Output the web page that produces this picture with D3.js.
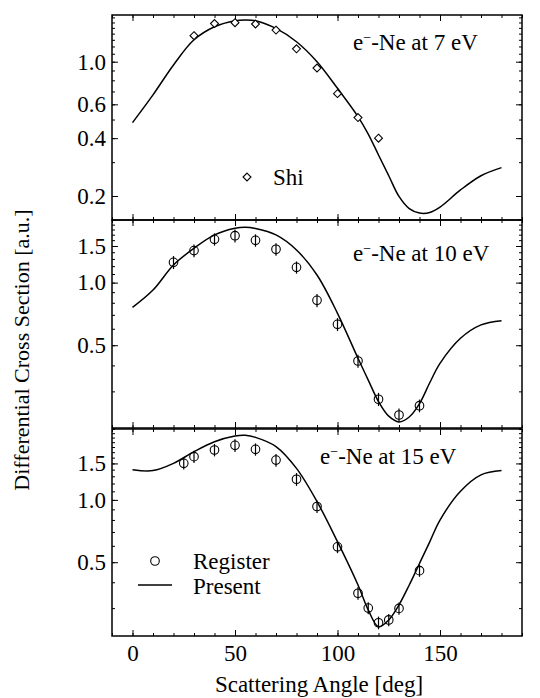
<!DOCTYPE html>
<html>
<head>
<meta charset="utf-8">
<script src="https://cdn.jsdelivr.net/npm/d3@7"></script>
<style>
  body { margin: 0; background: #fff; }
  svg { display: block; }
  text { font-family: "Liberation Serif", "DejaVu Serif", serif; fill: #000; }
</style>
</head>
<body>
<svg id="chart" width="540" height="698"></svg>
<script>
// angles for the theory curves (deg)
const curveAngles = [0, 10, 20, 30, 40, 50, 55, 60, 70, 80, 90, 100, 110, 115, 120, 125, 130, 135, 140, 145, 150, 160, 170, 180];

// "Present" curves
const present7 = [0.482, 0.672, 0.962, 1.30, 1.52, 1.635, 1.65, 1.635, 1.49, 1.27, 1.00, 0.727, 0.518, 0.42, 0.327, 0.255, 0.199, 0.172, 0.163, 0.164, 0.175, 0.215, 0.255, 0.281];
const present10 = [0.76, 0.921, 1.216, 1.462, 1.695, 1.824, 1.846, 1.82, 1.695, 1.435, 1.088, 0.712, 0.433, 0.34, 0.268, 0.228, 0.214, 0.226, 0.262, 0.33, 0.409, 0.54, 0.626, 0.656];
const present15 = [1.40, 1.385, 1.501, 1.71, 1.91, 2.035, 2.05, 2.005, 1.81, 1.42, 0.982, 0.628, 0.388, 0.294, 0.244, 0.263, 0.311, 0.388, 0.493, 0.627, 0.799, 1.10, 1.32, 1.385];

// Shi data, 7 eV
const shiAngles = [30, 40, 50, 60, 70, 80, 90, 100, 110, 120];
const shiValues = [1.366, 1.58, 1.596, 1.571, 1.46, 1.167, 0.927, 0.682, 0.512, 0.400];
const shiErrors = [0.05, 0.06, 0.06, 0.06, 0.05, 0.04, 0.035, 0.025, 0.02, 0.015];

// Register data, 10 eV
const reg10Angles = [20, 30, 40, 50, 60, 70, 80, 90, 100, 110, 120, 130, 140];
const reg10Values = [1.252, 1.425, 1.615, 1.681, 1.597, 1.446, 1.184, 0.822, 0.630, 0.420, 0.275, 0.231, 0.256];
const reg10Errors = [0.09, 0.10, 0.11, 0.12, 0.11, 0.10, 0.08, 0.06, 0.045, 0.03, 0.02, 0.017, 0.018];

// Register data, 15 eV
const reg15Angles = [25, 30, 40, 50, 60, 70, 80, 90, 100, 110, 115, 120, 125, 130, 140];
const reg15Values = [1.501, 1.617, 1.742, 1.834, 1.755, 1.557, 1.258, 0.929, 0.593, 0.354, 0.300, 0.255, 0.263, 0.299, 0.455];
const reg15Errors = [0.10, 0.11, 0.12, 0.13, 0.12, 0.11, 0.09, 0.065, 0.04, 0.025, 0.02, 0.018, 0.018, 0.02, 0.03];

// tick labels
const xTicks = [0, 50, 100, 150];
const yTicks7 = [0.2, 0.4, 0.6, 1.0];
const yTicks10 = [0.5, 1.0, 1.5];
const yTicks15 = [0.5, 1.0, 1.5];

const svg = d3.select("#chart");
const left = 112, right = 522;
const fontSize = 23;

const x = d3.scaleLinear().domain([-10, 190]).range([left, right]);

const panels = [
  { top: 15, bottom: 220, domain: [0.15, 1.75], ticks: yTicks7, curve: present7,
    label: "7 eV", labelX: 353, labelY: 50,
    pts: { angles: shiAngles, values: shiValues, errors: shiErrors, shape: "diamond" } },
  { top: 220, bottom: 428, domain: [0.2, 2.0], ticks: yTicks10, curve: present10,
    label: "10 eV", labelX: 353, labelY: 261,
    pts: { angles: reg10Angles, values: reg10Values, errors: reg10Errors, shape: "circle" } },
  { top: 429, bottom: 636, domain: [0.22, 2.2], ticks: yTicks15, curve: present15,
    label: "15 eV", labelX: 320, labelY: 464,
    pts: { angles: reg15Angles, values: reg15Values, errors: reg15Errors, shape: "circle" } }
];

const fmt = d3.format(".1f");

panels.forEach((p, i) => {
  const y = d3.scaleLog().domain(p.domain).range([p.bottom, p.top]);
  const g = svg.append("g");
  const minorY = d3.range(Math.ceil(p.domain[0] * 10) / 10, p.domain[1] + 1e-9, 0.1);
  const minorX = d3.range(-10, 191, 10);

  const addAxis = (axis, tx, ty) => {
    const a = g.append("g").attr("transform", `translate(${tx},${ty})`).call(axis);
    a.select(".domain").remove();
    a.attr("font-family", null).attr("font-size", fontSize);
    a.selectAll("line").attr("stroke", "#000").attr("stroke-width", 1);
    return a;
  };
  // minor ticks
  addAxis(d3.axisLeft(y).tickValues(minorY).tickSize(-3).tickFormat(""), left, 0);
  addAxis(d3.axisRight(y).tickValues(minorY).tickSize(-3).tickFormat(""), right, 0);
  addAxis(d3.axisBottom(x).tickValues(minorX).tickSize(-3).tickFormat(""), 0, p.bottom);
  addAxis(d3.axisTop(x).tickValues(minorX).tickSize(-3).tickFormat(""), 0, p.top);

  // major ticks
  addAxis(d3.axisLeft(y).tickValues(p.ticks).tickSize(-6).tickPadding(6).tickFormat(fmt), left, 0);
  addAxis(d3.axisRight(y).tickValues(p.ticks).tickSize(-6).tickFormat(""), right, 0);
  addAxis(d3.axisBottom(x).tickValues(xTicks).tickSize(-6).tickPadding(9)
    .tickFormat(i === 2 ? d3.format("d") : ""), 0, p.bottom);
  addAxis(d3.axisTop(x).tickValues(xTicks).tickSize(-6).tickFormat(""), 0, p.top);

  // frame
  g.append("rect")
    .attr("x", left).attr("y", p.top)
    .attr("width", right - left).attr("height", p.bottom - p.top)
    .attr("fill", "none").attr("stroke", "#000").attr("stroke-width", 1.5);

  // theory curve
  const line = d3.line()
    .x((d, j) => x(curveAngles[j]))
    .y(d => y(d))
    .curve(d3.curveCatmullRom.alpha(0.5));
  g.append("path")
    .datum(p.curve)
    .attr("d", line)
    .attr("fill", "none").attr("stroke", "#000").attr("stroke-width", 1.5);

  // data points with error bars
  const pts = p.pts.angles.map((a, j) => ({ a, v: p.pts.values[j], e: p.pts.errors[j] }));
  g.selectAll(".err").data(pts).enter().append("line")
    .attr("x1", d => x(d.a)).attr("x2", d => x(d.a))
    .attr("y1", d => y(d.v - d.e)).attr("y2", d => y(d.v + d.e))
    .attr("stroke", "#000").attr("stroke-width", 1.2);
  if (p.pts.shape === "diamond") {
    g.selectAll(".pt").data(pts).enter().append("path")
      .attr("d", d3.symbol(d3.symbolDiamond2, 40)())
      .attr("transform", d => `translate(${x(d.a)},${y(d.v)})`)
      .attr("fill", "#fff").attr("stroke", "#000").attr("stroke-width", 1.1);
  } else {
    g.selectAll(".pt").data(pts).enter().append("circle")
      .attr("cx", d => x(d.a)).attr("cy", d => y(d.v)).attr("r", 4.3)
      .attr("fill", "none").attr("stroke", "#000").attr("stroke-width", 1.1);
  }

  // panel label
  const t = g.append("text").attr("x", p.labelX).attr("y", p.labelY).attr("font-size", fontSize);
  t.append("tspan").text("e");
  t.append("tspan").attr("dy", -8).attr("font-size", 14).text("\u2212");
  t.append("tspan").attr("dy", 8).text("-Ne at " + p.label);
});

// legends
svg.append("path")
  .attr("d", d3.symbol(d3.symbolDiamond2, 40)())
  .attr("transform", "translate(247,177)")
  .attr("fill", "#fff").attr("stroke", "#000").attr("stroke-width", 1.1);
svg.append("text").attr("x", 273).attr("y", 185).attr("font-size", fontSize).text("Shi");

svg.append("circle").attr("cx", 155).attr("cy", 561).attr("r", 4.3)
  .attr("fill", "none").attr("stroke", "#000").attr("stroke-width", 1.1);
svg.append("text").attr("x", 193).attr("y", 569).attr("font-size", fontSize).text("Register");
svg.append("line").attr("x1", 138).attr("x2", 172).attr("y1", 585).attr("y2", 585)
  .attr("stroke", "#000").attr("stroke-width", 1.5);
svg.append("text").attr("x", 193).attr("y", 594).attr("font-size", fontSize).text("Present");

// axis titles
svg.append("text").attr("x", 319).attr("y", 692)
  .attr("text-anchor", "middle").attr("font-size", fontSize).text("Scattering Angle [deg]");
svg.append("text").attr("transform", "translate(29,350) rotate(-90)")
  .attr("text-anchor", "middle").attr("font-size", 22).text("Differential Cross Section [a.u.]");
</script>
</body>
</html>
